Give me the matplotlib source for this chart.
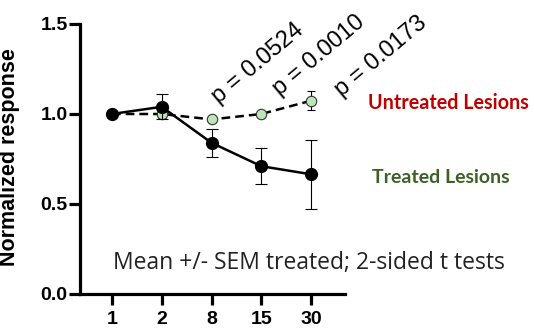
import numpy as np
import matplotlib.pyplot as plt

days = ["1", "2", "8", "15", "30"]
treated = [1.0, 1.04, 0.84, 0.71, 0.665]
treated_sem = [0.0, 0.07, 0.077, 0.10, 0.19]
untreated = [1.0, 1.0, 0.97, 1.0, 1.074]
untreated_sem = [0.0, 0.02, 0.015, 0.012, 0.053]
p_values = ["p = 0.0524", "p = 0.0010", "p = 0.0173"]

plt.rcParams['font.family'] = ['Liberation Sans', 'DejaVu Sans']

fig = plt.figure(figsize=(5.34, 3.29), dpi=100)
ax = fig.add_axes([80/534, 35/329, 265/534, 270/329])

x = np.arange(len(days))

ax.errorbar(x, untreated, yerr=untreated_sem, color='black', ls=(0, (3.5, 2)), lw=1.8,
            marker='o', ms=7.5, mfc='#bde6b8', mec='#333333', mew=0.8,
            ecolor='black', elinewidth=0.8, capsize=3, capthick=0.8, zorder=2)
ax.errorbar(x, treated, yerr=treated_sem, color='black', lw=1.8,
            marker='o', ms=8.5, mfc='black', mec='black',
            ecolor='black', elinewidth=0.8, capsize=4.5, capthick=0.8, zorder=3)

# p-value labels next to the last three untreated points
offsets = [(0.22, 0.065), (0.43, 0.075), (0.67, 0.0)]
for i, p, (dx, dy) in zip(x[2:], p_values, offsets):
    ax.text(i + dx, untreated[i] + dy, p, rotation=40, rotation_mode='anchor',
            ha='left', va='bottom', fontsize=17, clip_on=False)

ax.text(1.087, 0.707, "Untreated Lesions", transform=ax.transAxes, color='#c00000',
        fontsize=14.2, fontweight='bold', family=['Lato', 'DejaVu Sans'], va='center')
ax.text(1.10, 0.433, "Treated Lesions", transform=ax.transAxes, color='#3c6125',
        fontsize=14, fontweight='bold', family=['Lato', 'DejaVu Sans'], va='center')
ax.text(0.125, 0.115, "Mean +/- SEM treated; 2-sided t tests", transform=ax.transAxes,
        color='#222222', fontsize=16.5, family=['Open Sans', 'DejaVu Sans'], va='center')

ax.set_xlim(-0.64, 4.68)
ax.set_ylim(0, 1.5)
ax.set_yticks([0, 0.5, 1.0, 1.5])
ax.set_yticklabels(["0.0", "0.5", "1.0", "1.5"])
ax.set_xticks(x)
ax.set_xticklabels(days)
ax.set_ylabel("Normalized response", fontsize=15.5, fontweight='bold')
ax.yaxis.set_label_coords(-0.226, 0.506)

for lab in ax.get_xticklabels() + ax.get_yticklabels():
    lab.set_fontweight('bold')
    lab.set_fontsize(14)

ax.spines['top'].set_visible(False)
ax.spines['right'].set_visible(False)
ax.spines['left'].set_linewidth(2.3)
ax.spines['bottom'].set_linewidth(2.3)
ax.tick_params(axis='y', width=2.3, length=8, pad=1)
ax.tick_params(axis='x', width=2.3, length=8, pad=4)

fig.savefig("out.png", dpi=100)
